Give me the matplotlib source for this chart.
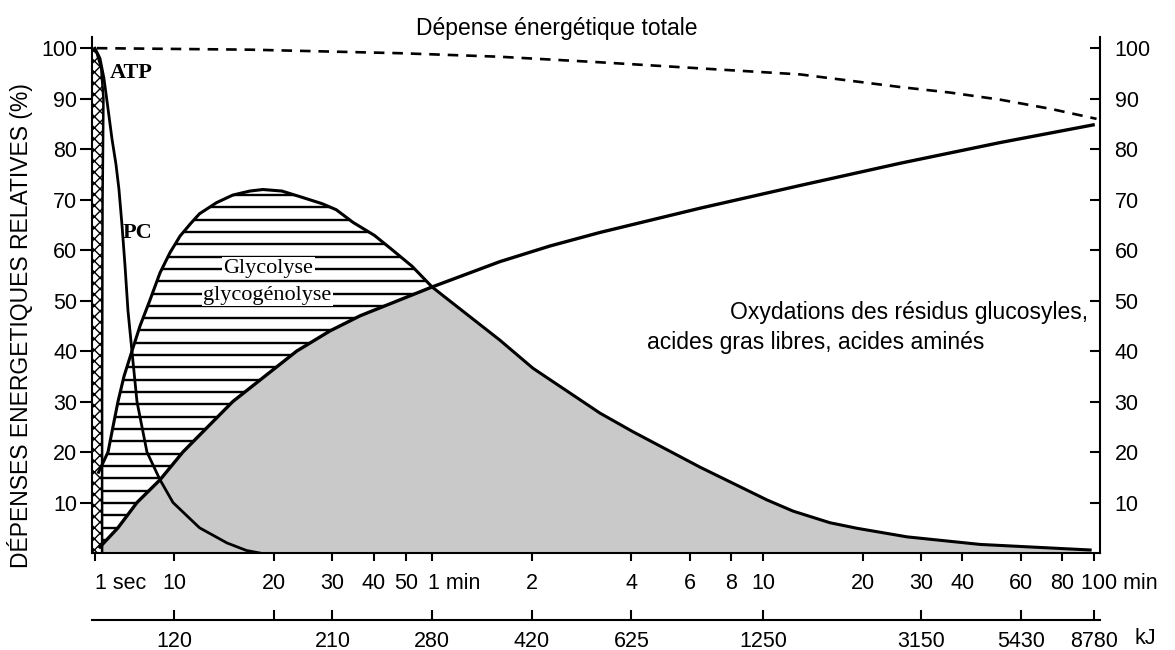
import matplotlib
matplotlib.use("Agg")
import matplotlib.pyplot as plt
import numpy as np
from matplotlib.lines import TICKLEFT
from matplotlib.ticker import NullLocator
from matplotlib.transforms import ScaledTranslation

plt.rcParams["font.family"] = ["Liberation Sans", "DejaVu Sans"]

# time axis: seconds, compressed linear below 10 s, log above
min_ticks_s = [1, 10, 20, 30, 40, 50, 60, 120, 240, 360, 480, 600,
               1200, 1800, 2400, 3600, 4800, 6000]
min_labels = ["1 sec", "10", "20", "30", "40", "50", "1 min", "2", "4", "6", "8", "10",
              "20", "30", "40", "60", "80", "100 min"]
kj_ticks_s = [10, 20, 30, 60, 120, 240, 600, 1800, 3600, 6000]
kj_labels = ["120", "", "210", "280", "420", "625", "1250", "3150", "5430", "8780"]
y_ticks = [10, 20, 30, 40, 50, 60, 70, 80, 90, 100]

# curves (time in s, relative expenditure in %)
total_t = [1.2, 16.9, 48, 96, 193, 487, 776, 1556, 2203, 3119, 4415, 6100]
total_v = [100, 99.7, 99.0, 98.3, 97.2, 95.6, 94.8, 92.3, 91.2, 89.8, 88.0, 86.0]

atp_t = [0.66, 1.2, 1.7, 1.95, 1.85, 1.8, 1.8]
atp_v = [100, 99, 96, 90, 70, 30, 0]

pc_t = [0.99, 1.56, 2.01, 2.47, 2.92, 3.37, 3.71, 4.05, 4.39, 4.73, 5.18, 5.75, 6.88,
        8.36, 9.83, 11.9, 14.4, 16.5, 18.1]
pc_v = [100, 98, 94, 88, 82, 77, 72, 65, 57, 48, 40, 30, 20, 14.5, 10, 5, 2, 0.5, 0]

glyco_t = [1.4, 2.47, 3.03, 3.6, 4.28, 5.18, 6.1, 7.2, 8.36, 9.49, 10.4, 11.2, 11.9, 13.4,
           15.0, 16.9, 18.5, 21.1, 23.9, 27.9, 30.8, 34.6, 40.2, 44.8, 52.2, 60,
           64.7, 96, 121, 193, 243, 387, 617, 739, 955, 1153, 1633, 2717, 5834]
glyco_v = [16, 20, 25, 30, 35, 40, 45, 50, 55.5, 59.5, 62.8, 65.3, 67.2, 69.4,
           70.9, 71.7, 72, 71.7, 70.6, 69.2, 68.0, 65.5, 62.9, 60.4, 56.8, 52.7,
           51, 42.2, 36.6, 27.7, 24, 17, 10.5, 8.3, 6.0, 4.9, 3.2, 1.7, 0.6]

oxid_t = [1.56, 3.6, 5.75, 8.36, 10.6, 15.0, 23.4, 29.5, 36.4, 60,
          96, 136, 193, 387, 776, 1556, 3119, 5957]
oxid_v = [1.2, 5, 10, 14.5, 20, 30, 40, 44, 47, 52.7,
          57.7, 60.8, 63.5, 68.3, 72.8, 77.2, 81.3, 84.8]

T_CROSS = 60   # glycolysis / oxidation crossing
W = 0.24       # width (in decades) given to the 0-10 s segment


def fwd(t):
    t = np.asarray(t, float)
    return np.where(t >= 10, np.log10(np.clip(t, 10, None)), 1 - (10 - t) * W / 9)


def inv(u):
    u = np.asarray(u, float)
    return np.where(u >= 1, 10 ** np.clip(u, 1, None), 10 - (1 - u) * 9 / W)


XLIM = (0.655, 6250)
FS = 15.5      # tick labels
FT = 16.5      # free text

fig = plt.figure(figsize=(11.75, 6.5), dpi=100)
ax = fig.add_axes([0.0783, 0.1492, 0.8579, 0.7938])
ax.set_xscale("function", functions=(fwd, inv))
ax.set_xlim(*XLIM)
ax.set_ylim(0, 102.2)

# grey area: oxidation up to the crossing, glycolysis after
gray_t = [t for t in oxid_t if t <= T_CROSS] + [t for t in glyco_t if t > T_CROSS]
gray_v = [v for t, v in zip(oxid_t, oxid_v) if t <= T_CROSS] + \
         [v for t, v in zip(glyco_t, glyco_v) if t > T_CROSS]
ax.fill_between(gray_t, 0, gray_v, color="#c9c9c9", lw=0, zorder=1)

# hatched glycolysis share: between glycolysis and oxidation before the crossing
g_part = [(t, v) for t, v in zip(glyco_t, glyco_v) if t <= T_CROSS]
o_part = [(t, v) for t, v in zip(oxid_t, oxid_v) if t <= T_CROSS][::-1]
poly_t = [p[0] for p in g_part + o_part]
poly_v = [p[1] for p in g_part + o_part]
poly = ax.fill(poly_t, poly_v, facecolor="none", edgecolor="none", zorder=1)[0]
hatch = ax.hlines(np.arange(2.6, 72, 2.44), XLIM[0], XLIM[1], color="black", lw=1.7, zorder=2)
hatch.set_clip_path(poly)

# ATP strip
ax.fill_betweenx(atp_v, XLIM[0], atp_t, facecolor="white", edgecolor="black",
                 hatch="xxx", lw=0, zorder=2)
ax.plot(atp_t, atp_v, color="black", lw=1.8, zorder=4)

ax.plot(pc_t, pc_v, color="black", lw=2.0, zorder=4)
ax.plot(glyco_t, glyco_v, color="black", lw=2.2, zorder=4)
ax.plot(oxid_t, oxid_v, color="black", lw=2.4, zorder=4)
ax.plot(total_t, total_v, color="black", lw=1.9, dashes=(4, 3), zorder=4)

# labels inside the plot
serif = "Liberation Serif"
ax.text(2.7, 95, "ATP", family=serif, weight="bold", fontsize=16, va="center", zorder=5)
ax.text(4.1, 63.4, "PC", family=serif, weight="bold", fontsize=16, va="center", zorder=5)
box = dict(facecolor="white", edgecolor="none", pad=1)
ax.text(19.2, 56.4, "Glycolyse", family=serif, fontsize=16,
        ha="center", va="center", bbox=box, zorder=5)
ax.text(19.1, 51.1, "glycogénolyse", family=serif, fontsize=16,
        ha="center", va="center", bbox=box, zorder=5)
ax.text(5754, 47.7, "Oxydations des résidus glucosyles,", fontsize=FT, ha="right", va="center")
ax.text(268, 41.6, "acides gras libres, acides aminés", fontsize=FT, ha="left", va="center")

# axes styling
ax.spines["top"].set_visible(False)
for s in ("left", "right", "bottom"):
    ax.spines[s].set_linewidth(1.5)
ax.set_yticks(y_ticks)
ax.tick_params(axis="y", direction="out", length=8.5, width=1.5, labelsize=FS, pad=2,
               right=True, labelright=True)
for t in ax.yaxis.get_major_ticks():
    t.tick2line.set_marker(TICKLEFT)     # right-hand ticks point into the plot
    t.tick2line.set_markersize(7)

ax.set_xticks(min_ticks_s, min_labels)
ax.xaxis.set_minor_locator(NullLocator())
ax.tick_params(axis="x", direction="out", length=6, width=1.5, labelsize=FS, pad=8.5)
shift = {"1 sec": 0, "1 min": -4, "100 min": -13}
for lab in ax.get_xticklabels():
    if lab.get_text() in shift:
        lab.set_horizontalalignment("left")
        lab.set_transform(lab.get_transform() +
                          ScaledTranslation(shift[lab.get_text()] / 100, 0, fig.dpi_scale_trans))

# kJ axis below
ax2 = ax.twiny()
ax2.set_xscale("function", functions=(fwd, inv))
ax2.set_xlim(*XLIM)
for s in ("top", "left", "right"):
    ax2.spines[s].set_visible(False)
ax2.spines["bottom"].set_visible(True)
ax2.spines["bottom"].set_position(("outward", 48))
ax2.spines["bottom"].set_linewidth(1.5)
ax2.xaxis.set_ticks_position("bottom")
ax2.xaxis.set_label_position("bottom")
ax2.set_xticks(kj_ticks_s, kj_labels)
ax2.xaxis.set_minor_locator(NullLocator())
ax2.tick_params(axis="x", direction="in", length=7, width=1.5, labelsize=FS, pad=8)

fig.text(1145 / 1175, 1 - 638 / 650, "kJ", fontsize=FS, ha="center", va="center")
fig.text(557 / 1175, 1 - 28 / 650, "Dépense énergétique totale", fontsize=FT,
         ha="center", va="center")
fig.text(20 / 1175, 1 - 326 / 650, "DÉPENSES ENERGETIQUES RELATIVES (%)", fontsize=FT,
         rotation=90, ha="center", va="center")

fig.savefig("out.png", dpi=100)
